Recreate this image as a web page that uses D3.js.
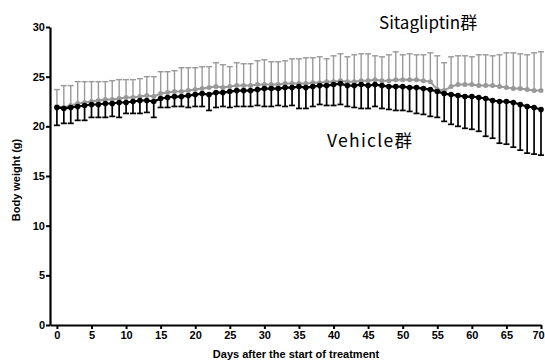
<!DOCTYPE html>
<html>
<head>
<meta charset="utf-8">
<script src="https://cdn.jsdelivr.net/npm/d3@7"></script>
<style>
  html, body { margin: 0; padding: 0; background: #fff; }
  svg { display: block; }
  .axis text { font-family: Arial, "Liberation Sans", sans-serif; font-size: 11px; font-weight: bold; fill: #000; }
</style>
</head>
<body>
<figure id="chart" style="margin:0"></figure>
<script>
// days after start of treatment
const days = d3.range(0, 71);

const vehicleMean = [21.9, 21.8, 21.9, 22.0, 22.1, 22.2, 22.2, 22.3, 22.3, 22.4,
  22.4, 22.5, 22.6, 22.6, 22.5, 22.8, 22.9, 23.0, 23.0, 23.1,
  23.2, 23.3, 23.2, 23.4, 23.4, 23.5, 23.6, 23.6, 23.6, 23.7,
  23.8, 23.8, 23.8, 23.9, 23.9, 24.0, 23.9, 24.0, 24.1, 24.1,
  24.2, 24.3, 24.1, 24.1, 24.2, 24.1, 24.2, 24.1, 24.0, 24.0,
  24.0, 23.9, 23.9, 23.8, 23.7, 23.5, 23.3, 23.2, 23.1, 23.0,
  23.0, 22.9, 22.8, 22.6, 22.5, 22.5, 22.4, 22.2, 22.0, 21.9, 21.7];

// mean - SD (lower whisker)
const vehicleLow = [20.1, 20.3, 20.3, 20.6, 20.6, 20.9, 20.9, 20.9, 21.0, 20.9,
  21.3, 21.3, 21.3, 21.4, 20.9, 21.9, 21.9, 22.0, 22.0, 21.9,
  22.0, 22.0, 21.6, 21.9, 22.0, 21.9, 22.0, 22.0, 22.0, 22.1,
  22.0, 22.0, 22.1, 22.0, 22.1, 21.8, 21.8, 22.0, 22.2, 22.1,
  22.1, 22.2, 22.0, 21.9, 21.8, 21.8, 22.0, 21.8, 21.7, 21.6,
  21.6, 21.5, 21.3, 21.2, 21.0, 20.9, 20.5, 20.2, 20.0, 19.8,
  19.7, 19.5, 19.0, 18.8, 18.3, 18.2, 17.9, 17.6, 17.3, 17.2, 17.1];

const sitaMean = [22.0, 21.9, 22.1, 22.3, 22.4, 22.5, 22.6, 22.7, 22.7, 22.8,
  22.9, 22.9, 23.0, 23.1, 23.0, 23.3, 23.4, 23.5, 23.5, 23.6,
  23.7, 23.8, 23.9, 24.0, 23.9, 24.0, 24.1, 24.1, 24.1, 24.2,
  24.2, 24.2, 24.2, 24.3, 24.3, 24.3, 24.3, 24.4, 24.4, 24.5,
  24.5, 24.6, 24.5, 24.5, 24.6, 24.6, 24.7, 24.6, 24.6, 24.7,
  24.7, 24.7, 24.7, 24.6, 24.5, 23.7, 23.6, 24.0, 24.2, 24.2,
  24.2, 24.1, 24.1, 24.1, 24.0, 23.9, 23.8, 23.8, 23.7, 23.6, 23.6];

// mean + SD (upper whisker)
const sitaHigh = [23.7, 24.1, 24.1, 24.5, 24.5, 24.5, 24.5, 24.5, 24.6, 24.7,
  24.7, 24.7, 24.8, 25.0, 25.0, 25.5, 25.5, 25.6, 25.9, 25.9,
  25.9, 26.0, 26.0, 26.4, 26.2, 26.0, 26.4, 26.3, 26.3, 26.6,
  26.7, 26.5, 26.5, 26.6, 26.8, 26.8, 26.9, 26.9, 27.0, 26.8,
  27.1, 27.3, 27.0, 27.2, 27.3, 27.3, 27.1, 27.0, 27.2, 27.5,
  27.2, 27.3, 27.2, 27.2, 27.4, 27.1, 26.4, 27.0, 27.1, 27.1,
  27.0, 27.2, 27.2, 27.1, 27.2, 27.4, 27.4, 27.3, 27.2, 27.4, 27.5];

const xTicks = [0, 5, 10, 15, 20, 25, 30, 35, 40, 45, 50, 55, 60, 65, 70];
const yTicks = [0, 5, 10, 15, 20, 25, 30];

const width = 545;
const height = 362;

const svg = d3.select('figure#chart')
  .append('svg')
  .attr('width', width)
  .attr('height', height);

const x = d3.scaleLinear().domain([-1, 70]).range([50, 541]);
const y = d3.scaleLinear().domain([0, 30]).range([325, 27]);

function drawSeries(mean, bound, color, r, lw, lineW) {
  const g = svg.append('g');
  const pts = days.map((d, i) => ({day: d, m: mean[i], b: bound[i]}));

  // whiskers
  g.selectAll('line.bar')
    .data(pts)
    .enter().append('line')
    .attr('class', 'bar')
    .attr('x1', d => x(d.day)).attr('x2', d => x(d.day))
    .attr('y1', d => y(d.m)).attr('y2', d => y(d.b))
    .attr('stroke', color).attr('stroke-width', lw);

  g.selectAll('line.cap')
    .data(pts)
    .enter().append('line')
    .attr('class', 'cap')
    .attr('x1', d => x(d.day) - 3).attr('x2', d => x(d.day) + 3)
    .attr('y1', d => y(d.b)).attr('y2', d => y(d.b))
    .attr('stroke', color).attr('stroke-width', lw);

  g.append('path')
    .datum(pts)
    .attr('fill', 'none')
    .attr('stroke', color)
    .attr('stroke-width', lineW)
    .attr('d', d3.line().x(d => x(d.day)).y(d => y(d.m)));

  g.selectAll('circle')
    .data(pts)
    .enter().append('circle')
    .attr('cx', d => x(d.day))
    .attr('cy', d => y(d.m))
    .attr('r', r)
    .attr('fill', color);
}

drawSeries(sitaMean, sitaHigh, '#999', 2.5, 1.4, 2);
drawSeries(vehicleMean, vehicleLow, '#000', 2.8, 1.7, 2.2);

// axes
svg.append('g')
  .attr('class', 'axis')
  .attr('transform', 'translate(0,325)')
  .call(d3.axisBottom(x).tickValues(xTicks).tickSize(4).tickSizeOuter(0).tickPadding(2));

svg.append('g')
  .attr('class', 'axis')
  .attr('transform', 'translate(50,0)')
  .call(d3.axisLeft(y).tickValues(yTicks).tickSize(4).tickSizeOuter(0).tickPadding(1));

svg.selectAll('.axis path.domain').attr('stroke', '#000').attr('stroke-width', 2.2);
svg.selectAll('.axis .tick line').attr('stroke', '#000').attr('stroke-width', 2);

// last x label sits at the right edge, nudge it inside
svg.selectAll('.axis .tick text')
  .filter(d => d === 70)
  .attr('dx', -3);

svg.append('text')
  .attr('transform', 'translate(20,180) rotate(-90)')
  .attr('text-anchor', 'middle')
  .style('font-family', 'Arial, "Liberation Sans", sans-serif')
  .style('font-size', '11px')
  .style('font-weight', 'bold')
  .text('Body weight (g)');

svg.append('text')
  .attr('x', 296)
  .attr('y', 358)
  .attr('text-anchor', 'middle')
  .style('font-family', 'Arial, "Liberation Sans", sans-serif')
  .style('font-size', '11px')
  .style('font-weight', 'bold')
  .text('Days after the start of treatment');

// group labels
svg.append('text')
  .attr('x', 379)
  .attr('y', 29)
  .style('font-family', '"Noto Sans CJK JP", "Noto Sans", sans-serif')
  .style('font-size', '17px')
  .text('Sitagliptin群');

svg.append('text')
  .attr('x', 327)
  .attr('y', 147)
  .style('font-family', '"Noto Sans CJK JP", "Noto Sans", sans-serif')
  .style('font-size', '17.5px')
  .style('letter-spacing', '1.3px')
  .text('Vehicle群');
</script>
</body>
</html>
